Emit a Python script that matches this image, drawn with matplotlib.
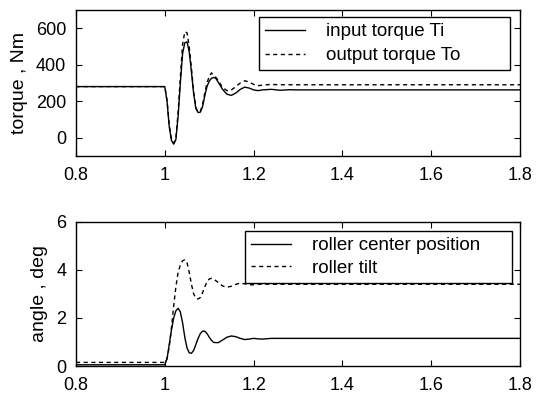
import matplotlib
matplotlib.use("Agg")
import matplotlib.pyplot as plt

plt.rcParams["font.family"] = ["Liberation Sans", "DejaVu Sans"]
plt.rcParams["font.size"] = 13

# torque traces (time in s, torque in Nm)
t_torque = [0.8, 1.0, 1.005, 1.01, 1.015, 1.02, 1.025, 1.03, 1.035, 1.04,
            1.045, 1.05, 1.055, 1.06, 1.065, 1.07, 1.075, 1.08, 1.085, 1.09,
            1.095, 1.10, 1.105, 1.11, 1.115, 1.12, 1.13, 1.14, 1.15, 1.16,
            1.17, 1.18, 1.19, 1.20, 1.21, 1.22, 1.24, 1.26, 1.28, 1.30, 1.8]
input_torque = [280, 280, 200, 60, -15, -35, -10, 120, 300, 460,
                520, 525, 470, 360, 240, 160, 138, 140, 170, 230,
                280, 310, 325, 330, 325, 305, 265, 238, 232, 245,
                265, 277, 272, 262, 258, 262, 265, 260, 263, 262, 262]
output_torque = [280, 280, 205, 70, -5, -30, 0, 140, 330, 510,
                 580, 575, 500, 380, 250, 165, 140, 145, 180, 245,
                 300, 335, 355, 340, 330, 315, 275, 258, 262, 280,
                 300, 312, 305, 292, 285, 288, 292, 290, 290, 290, 290]

# angle traces (deg)
t_angle = [0.8, 1.0, 1.005, 1.01, 1.015, 1.02, 1.025, 1.03, 1.035, 1.04,
           1.045, 1.05, 1.055, 1.06, 1.065, 1.07, 1.075, 1.08, 1.085, 1.09,
           1.095, 1.10, 1.105, 1.11, 1.12, 1.13, 1.14, 1.15, 1.16, 1.17,
           1.18, 1.19, 1.20, 1.21, 1.22, 1.24, 1.8]
roller_center = [0.05, 0.05, 0.3, 0.9, 1.5, 2.0, 2.3, 2.4, 2.25, 1.8,
                 1.2, 0.75, 0.55, 0.53, 0.65, 0.9, 1.15, 1.35, 1.45, 1.45,
                 1.35, 1.2, 1.07, 0.98, 0.97, 1.08, 1.2, 1.25, 1.22, 1.15,
                 1.1, 1.12, 1.15, 1.13, 1.12, 1.15, 1.15]
roller_tilt = [0.15, 0.15, 0.3, 0.8, 1.6, 2.5, 3.3, 3.9, 4.2, 4.38,
               4.42, 4.3, 3.9, 3.4, 3.0, 2.82, 2.79, 2.85, 3.05, 3.3,
               3.5, 3.62, 3.65, 3.62, 3.48, 3.33, 3.28, 3.32, 3.4, 3.45,
               3.42, 3.38, 3.38, 3.4, 3.41, 3.4, 3.4]

x_ticks = [0.8, 1.0, 1.2, 1.4, 1.6, 1.8]
x_labels = ["0.8", "1", "1.2", "1.4", "1.6", "1.8"]


def style_axes(ax):
    ax.set_xlim(0.8, 1.8)
    ax.set_xticks(x_ticks)
    ax.set_xticklabels(x_labels)
    ax.tick_params(direction="in", top=True, right=True, length=4, width=0.8,
                   labelsize=13)
    ax.tick_params(axis="x", pad=8)
    ax.tick_params(axis="y", pad=7)
    for s in ax.spines.values():
        s.set_linewidth(1.0)


def add_legend(ax, box, spacing):
    # box = (x0, top, width) in axes fraction; MATLAB-like wide frame
    x0, top, w = box
    leg = ax.legend(loc="upper left", bbox_to_anchor=(x0, top - 0.3, w, 0.3),
                    mode="expand", borderaxespad=0,
                    fancybox=False, framealpha=1, edgecolor="black",
                    handlelength=2.1, handletextpad=1.15, borderpad=0.33,
                    labelspacing=spacing, fontsize=13.5)
    leg.get_frame().set_linewidth(1.0)


fig = plt.figure(figsize=(5.37, 3.95), dpi=100)

ax1 = fig.add_axes([0.1415, 0.605, 0.827, 0.37])
ax1.plot(t_torque, input_torque, color="black", lw=1.0, label="input torque Ti")
ax1.plot(t_torque, output_torque, color="black", lw=1.0, ls=(0, (3, 2.5)),
         label="output torque To")
ax1.set_ylim(-100, 700)
ax1.set_yticks([0, 200, 400, 600])
ax1.set_ylabel("torque , Nm", fontsize=14, labelpad=6)
style_axes(ax1)
add_legend(ax1, (0.412, 0.952, 0.565), 0.36)

ax2 = fig.add_axes([0.1415, 0.0734, 0.827, 0.365])
ax2.plot(t_angle, roller_center, color="black", lw=1.0,
         label="roller center position")
ax2.plot(t_angle, roller_tilt, color="black", lw=1.0, ls=(0, (3, 2.5)),
         label="roller tilt")
ax2.set_ylim(0, 6)
ax2.set_yticks([0, 2, 4, 6])
ax2.set_ylabel("angle , deg", fontsize=14, labelpad=6)
style_axes(ax2)
add_legend(ax2, (0.381, 0.9375, 0.601), 0.28)

fig.savefig("out.png", dpi=100)
